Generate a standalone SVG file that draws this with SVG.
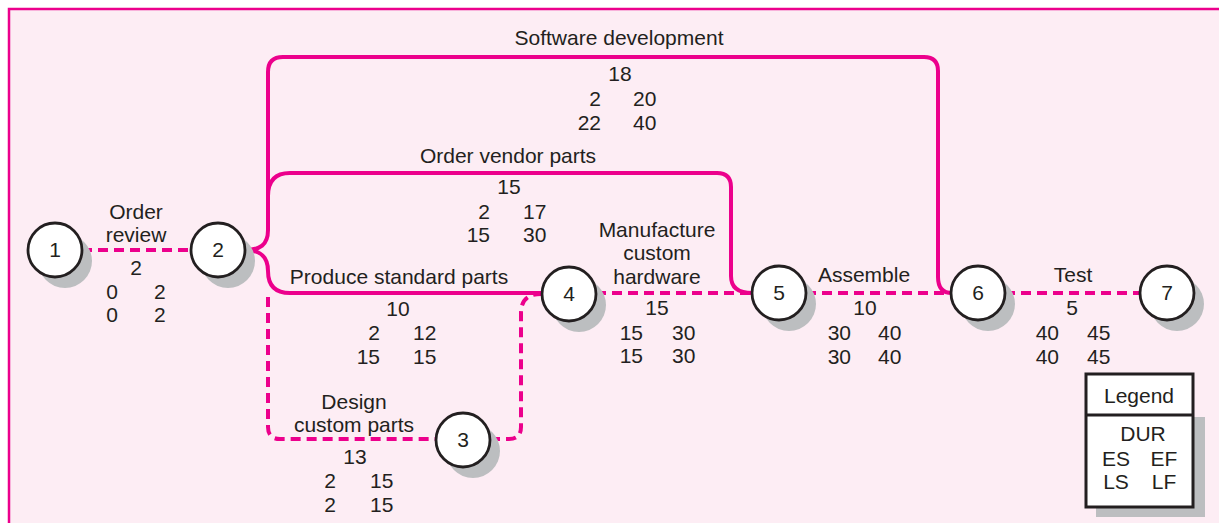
<svg xmlns="http://www.w3.org/2000/svg" width="1219" height="523" viewBox="0 0 1219 523">
<style>
.t{font-family:"Liberation Sans",Arial,Helvetica,sans-serif;font-size:21px;fill:#231f20}
.c{text-anchor:middle}
.e{text-anchor:end}
.s{text-anchor:start}
.ln{fill:none;stroke:#ec008c;stroke-width:4;stroke-linecap:butt}
.d{stroke-dasharray:10 6}
.sh{fill:#bcbec0}
.nd{fill:#ffffff;stroke:#231f20;stroke-width:2.8}
.nt{font-family:"Liberation Sans",Arial,Helvetica,sans-serif;font-size:21px;fill:#231f20;text-anchor:middle}
</style>
<rect x="0" y="0" width="1219" height="523" fill="#ffffff"/>
<rect x="9" y="9" width="1230" height="540" fill="#fdedf4" stroke="#ec008c" stroke-width="2.5"/>

<g id="connectors">
  <path class="ln d" d="M82,250 H191"/>
  <path class="ln" d="M245,250 C260,250 268,245 268,230 V72 Q268,57 283,57 H924 Q938,57 938,71 V277 Q938,293 952,293"/>
  <path class="ln" d="M268,196 Q268,173 290,173 H717 Q731,173 731,187 V276 Q731,293 752,293"/>
  <path class="ln" d="M245,250 C260,250 268,256 268,271 Q268,293 290,293 H542"/>
  <path class="ln d" d="M268,297 V427 Q268,439 280,439 H436"/>
  <path class="ln d" d="M490,439 H509 Q521,439 521,427 V313 Q521,294 541,294"/>
  <path class="ln d" d="M596,293 H752"/>
  <path class="ln d" d="M806,293 H951"/>
  <path class="ln d" d="M1005,293 H1140"/>
</g>

<g id="node1"><circle class="sh" cx="65" cy="261" r="27"/><circle class="nd" cx="55" cy="250" r="27"/><text class="nt" x="55" y="257">1</text></g>
<g id="node2"><circle class="sh" cx="228" cy="261" r="27"/><circle class="nd" cx="218" cy="250" r="27"/><text class="nt" x="218" y="257">2</text></g>
<g id="node3"><circle class="sh" cx="473" cy="451" r="27"/><circle class="nd" cx="463" cy="440" r="27"/><text class="nt" x="463" y="447">3</text></g>
<g id="node4"><circle class="sh" cx="579" cy="305" r="27"/><circle class="nd" cx="569" cy="294" r="27"/><text class="nt" x="569" y="301">4</text></g>
<g id="node5"><circle class="sh" cx="789" cy="304" r="27"/><circle class="nd" cx="779" cy="293" r="27"/><text class="nt" x="779" y="300">5</text></g>
<g id="node6"><circle class="sh" cx="988" cy="304" r="27"/><circle class="nd" cx="978" cy="293" r="27"/><text class="nt" x="978" y="300">6</text></g>
<g id="node7"><circle class="sh" cx="1177" cy="304" r="27"/><circle class="nd" cx="1167" cy="293" r="27"/><text class="nt" x="1167" y="300">7</text></g>

<g id="label-order-review">
  <text class="t c" x="136" y="219">Order</text>
  <text class="t c" x="136" y="242">review</text>
  <text class="t c" x="136" y="275">2</text>
  <text class="t e" x="118" y="299">0</text><text class="t s" x="154" y="299">2</text>
  <text class="t e" x="118" y="322">0</text><text class="t s" x="154" y="322">2</text>
</g>
<g id="label-software">
  <text class="t c" x="619" y="45">Software development</text>
  <text class="t c" x="620" y="81">18</text>
  <text class="t e" x="601" y="106">2</text><text class="t s" x="633" y="106">20</text>
  <text class="t e" x="601" y="130">22</text><text class="t s" x="633" y="130">40</text>
</g>
<g id="label-vendor">
  <text class="t c" x="508" y="163">Order vendor parts</text>
  <text class="t c" x="509" y="194">15</text>
  <text class="t e" x="490" y="219">2</text><text class="t s" x="523" y="219">17</text>
  <text class="t e" x="490" y="242">15</text><text class="t s" x="523" y="242">30</text>
</g>
<g id="label-produce">
  <text class="t c" x="399" y="284">Produce standard parts</text>
  <text class="t c" x="398" y="316">10</text>
  <text class="t e" x="380" y="340">2</text><text class="t s" x="413" y="340">12</text>
  <text class="t e" x="380" y="364">15</text><text class="t s" x="413" y="364">15</text>
</g>
<g id="label-design">
  <text class="t c" x="354" y="409">Design</text>
  <text class="t c" x="354" y="432">custom parts</text>
  <text class="t c" x="355" y="464">13</text>
  <text class="t e" x="336" y="488">2</text><text class="t s" x="370" y="488">15</text>
  <text class="t e" x="336" y="512">2</text><text class="t s" x="370" y="512">15</text>
</g>
<g id="label-manufacture">
  <text class="t c" x="657" y="237">Manufacture</text>
  <text class="t c" x="657" y="260">custom</text>
  <text class="t c" x="657" y="284">hardware</text>
  <text class="t c" x="657" y="315">15</text>
  <text class="t e" x="643" y="340">15</text><text class="t s" x="672" y="340">30</text>
  <text class="t e" x="643" y="363">15</text><text class="t s" x="672" y="363">30</text>
</g>
<g id="label-assemble">
  <text class="t c" x="864" y="282">Assemble</text>
  <text class="t c" x="865" y="315">10</text>
  <text class="t e" x="851" y="340">30</text><text class="t s" x="878" y="340">40</text>
  <text class="t e" x="851" y="364">30</text><text class="t s" x="878" y="364">40</text>
</g>
<g id="label-test">
  <text class="t c" x="1073" y="282">Test</text>
  <text class="t c" x="1072" y="315">5</text>
  <text class="t e" x="1059" y="340">40</text><text class="t s" x="1087" y="340">45</text>
  <text class="t e" x="1059" y="364">40</text><text class="t s" x="1087" y="364">45</text>
</g>

<g id="legend">
  <rect class="sh" x="1096" y="417" width="109" height="100"/>
  <rect x="1086" y="374" width="107" height="133" fill="#ffffff" stroke="#231f20" stroke-width="3"/>
  <line x1="1086" y1="415" x2="1193" y2="415" stroke="#231f20" stroke-width="3"/>
  <text class="t c" x="1139" y="403">Legend</text>
  <text class="t c" x="1143" y="441">DUR</text>
  <text class="t c" x="1116" y="466">ES</text><text class="t c" x="1164" y="466">EF</text>
  <text class="t c" x="1116" y="489">LS</text><text class="t c" x="1164" y="489">LF</text>
</g>
</svg>
